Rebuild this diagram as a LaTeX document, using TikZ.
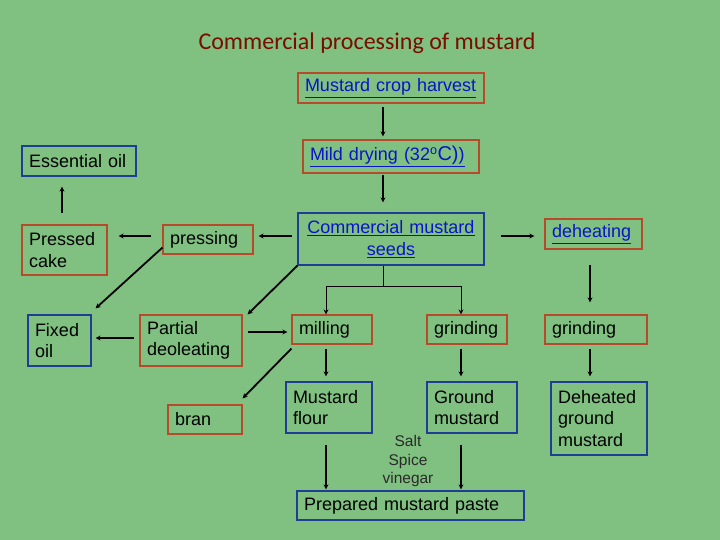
\documentclass[tikz,border=0pt]{standalone}
\usepackage{fontspec}
\setmainfont{Liberation Sans}
\newfontfamily\titlefont{Carlito}
\usetikzlibrary{arrows.meta}
\definecolor{bggreen}{HTML}{80C080}
\definecolor{boxred}{HTML}{B84A2C}
\definecolor{boxblue}{HTML}{1E3E96}
\definecolor{linkblue}{HTML}{0A14C8}
\definecolor{titlered}{HTML}{7A0C00}
\definecolor{addgray}{HTML}{2A2A2A}

\begin{document}
\begin{tikzpicture}[x=1pt, y=-1pt,
  redbox/.style={draw=boxred, line width=1.2pt, inner xsep=7pt, inner ysep=0pt, align=left, font=\fontsize{18}{21.5}\selectfont},
  bluebox/.style={redbox, draw=boxblue},
  link/.style={text=linkblue},
  arr/.style={line width=1.8pt, -{Stealth[length=5pt,width=5pt]}},
  arrthin/.style={line width=1pt, -{Stealth[length=5pt,width=5pt]}}]
  \fill[bggreen] (0,0) rectangle (720,540);
  \node[text=titlered, font=\titlefont\fontsize{24}{28}\selectfont] (title) at (367,43) {Commercial processing of mustard};
  % boxes
  \node[redbox, link, text width=172pt, minimum height=30pt] (harvest) at (391,88) {\underline{Mustard crop harvest}};
  \node[redbox, link, text width=162pt, minimum height=33pt] (drying) at (391,156.5) {\underline{Mild drying (32\textsuperscript{o}{\fontsize{20}{20}\selectfont C)})}};
  \node[bluebox, text width=100pt, minimum height=30pt] (essoil) at (79,161) {Essential oil};
  \node[redbox, text width=71pt, minimum height=50pt] (pcake) at (64.5,250) {Pressed\\cake};
  \node[redbox, text width=76pt, minimum height=29pt] (pressing) at (208,239.5) {pressing};
  \node[bluebox, link, align=center, text width=172pt, minimum height=52pt] (seeds) at (391,239) {\underline{Commercial mustard}\\\underline{seeds}};
  \node[redbox, link, text width=83pt, minimum height=30pt] (deheat) at (593.5,234) {\underline{deheating}};
  \node[bluebox, text width=49pt, minimum height=51pt] (fixoil) at (59.5,340.5) {Fixed\\oil};
  \node[redbox, text width=88pt, minimum height=51pt] (deoil) at (191,340.5) {Partial\\deoleating};
  \node[redbox, text width=66pt, minimum height=29pt] (milling) at (332,329.5) {milling};
  \node[redbox, text width=66pt, minimum height=29pt] (grind1) at (467,329.5) {grinding};
  \node[redbox, text width=88pt, minimum height=29pt] (grind2) at (596,329.5) {grinding};
  \node[redbox, text width=60pt, minimum height=29pt] (bran) at (205,419.5) {bran};
  \node[bluebox, text width=72pt, minimum height=51pt] (flour) at (329,407.5) {Mustard\\flour};
  \node[bluebox, text width=76pt, minimum height=51pt] (ground) at (472,407.5) {Ground\\mustard};
  \node[bluebox, text width=82pt, minimum height=73pt] (dground) at (599,418.5) {Deheated\\ground\\mustard};
  \node[bluebox, text width=213pt, minimum height=29pt] (paste) at (410.5,505.5) {Prepared mustard paste};
  \node[text=addgray, align=center, font=\fontsize{15.5}{18.5}\selectfont] (additives) at (408,461) {Salt\\Spice\\vinegar};
  % connectors
  \draw[arr, shorten <=3pt, shorten >=3pt] ([xshift=-8pt]harvest.south) -- ([xshift=-8pt]drying.north);
  \draw[arr, shorten <=1pt, shorten >=10pt] ([xshift=-8pt]drying.south) -- ([xshift=-8pt]seeds.north);
  \draw[arr, shorten <=5pt, shorten >=5pt] ([yshift=3pt]seeds.west) -- ([yshift=3pt]seeds.west -| pressing.east);
  \draw[arr, shorten <=11pt, shorten >=11pt] ([yshift=3.5pt]pressing.west) -- ([yshift=3.5pt]pressing.west -| pcake.east);
  \draw[arr, shorten <=11pt, shorten >=10pt] ([xshift=-2.5pt]pcake.north) -- ([xshift=-2.5pt]pcake.north |- essoil.south);
  \draw[arr, shorten <=16pt, shorten >=10pt] ([yshift=3pt]seeds.east) -- ([yshift=3pt]seeds.east -| deheat.west);
  \draw[arr] ([yshift=7pt]pressing.south west) -- ([shift={(4pt,6pt)}]fixoil.north east);
  \draw[arr] (seeds.south west) -- ([xshift=5pt]deoil.north east);
  \coordinate (split) at ([shift={(-8pt,-21pt)}]seeds.south);
  \draw[line width=1pt] ([xshift=-8pt]seeds.south) -- (split);
  \draw[arrthin] (split) -| ([xshift=-6pt]milling.north);
  \draw[arrthin] (split) -| ([xshift=-6pt]grind1.north);
  \draw[arr, shorten <=5pt, shorten >=4pt] ([yshift=2.5pt]deoil.west) -- ([yshift=2.5pt]deoil.west -| fixoil.east);
  \draw[arr, shorten <=5pt, shorten >=4pt] ([yshift=8.5pt]deoil.east) -- ([yshift=8.5pt]deoil.east -| milling.west);
  \draw[arr] ([yshift=-4pt]milling.south west) -- ([yshift=6pt]bran.north east);
  \draw[arr, shorten <=4pt, shorten >=5pt] ([xshift=-6pt]milling.south) -- ([xshift=-6pt]milling.south |- flour.north);
  \draw[arr, shorten <=11pt, shorten >=1pt] ([xshift=-3pt]flour.south) -- ([xshift=-3pt]flour.south |- paste.north);
  \draw[arr, shorten <=4pt, shorten >=5pt] ([xshift=-6pt]grind1.south) -- ([xshift=-6pt]grind1.south |- ground.north);
  \draw[arr, shorten <=11pt, shorten >=1pt] ([xshift=-11pt]ground.south) -- ([xshift=-11pt]ground.south |- paste.north);
  \draw[arr, shorten <=15pt, shorten >=12pt] ([xshift=-3.5pt]deheat.south) -- ([xshift=-3.5pt]deheat.south |- grind2.north);
  \draw[arr, shorten <=4pt, shorten >=5pt] ([xshift=-6pt]grind2.south) -- ([xshift=-6pt]grind2.south |- dground.north);
\end{tikzpicture}
\end{document}
